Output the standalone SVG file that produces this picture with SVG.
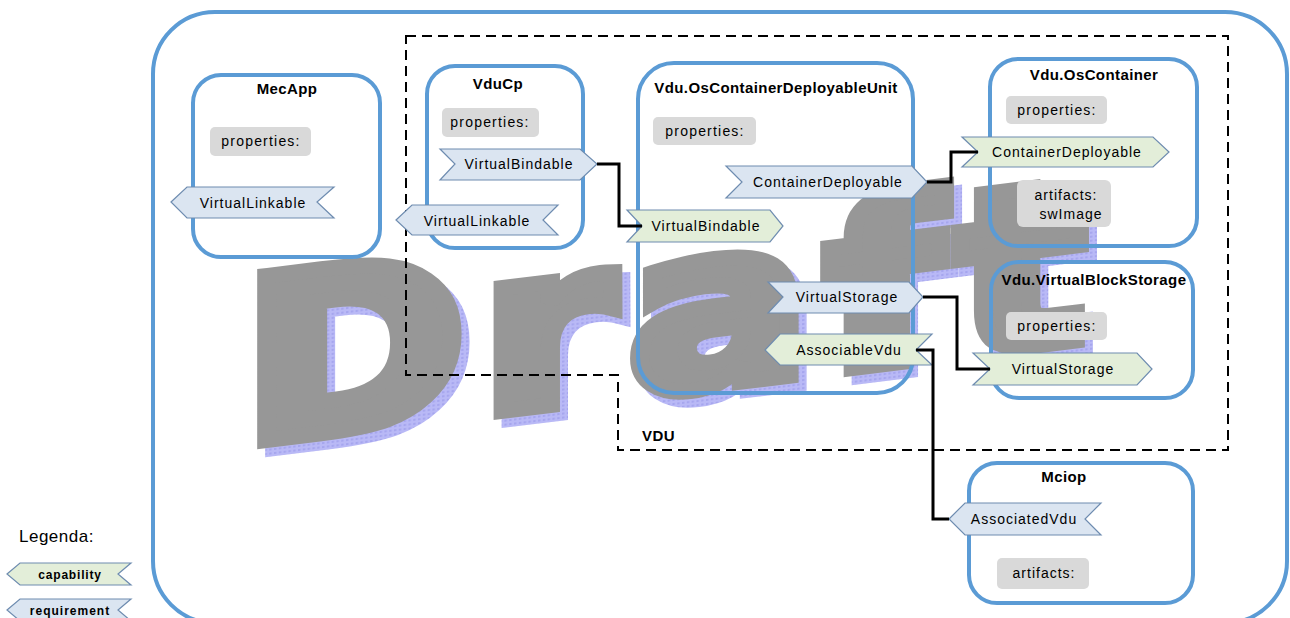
<svg xmlns="http://www.w3.org/2000/svg" width="1290" height="618" viewBox="0 0 1290 618">
<defs>
<style>
.node{fill:none;stroke:#5b9bd5;stroke-width:4}
.title{font-family:"Liberation Sans",Arial,sans-serif;font-weight:bold;font-size:15px;letter-spacing:0.4px;fill:#000;text-anchor:middle}
.prop{fill:#d9d9d9;stroke:none}
.t{font-family:"Liberation Sans",Arial,sans-serif;font-size:14px;letter-spacing:1px;fill:#000;text-anchor:middle}
.req{fill:#dbe5f1;stroke:#6e8cb0;stroke-width:1.2}
.cap{fill:#e3eed9;stroke:#6e8cb0;stroke-width:1.2}
.conn{fill:none;stroke:#000;stroke-width:3}
.wm{font-family:"DejaVu Sans",sans-serif;font-weight:bold;font-size:225px;letter-spacing:12px;stroke-width:16;stroke-linejoin:miter;stroke-miterlimit:2}
</style>
<pattern id="dots" width="4" height="4" patternUnits="userSpaceOnUse">
<rect width="4" height="4" fill="#b9b9f6"/>
<rect width="2" height="2" fill="#a6a6ee"/>
</pattern>
</defs>
<rect width="1290" height="618" fill="#fff"/>
<rect x="153" y="12" width="1134" height="611" rx="62" fill="none" stroke="#5b9bd5" stroke-width="4"/>

<g id="watermark">
<text class="wm" transform="translate(250,451) skewY(-7) scale(1.2,1)" fill="url(#dots)" stroke="url(#dots)">Draft</text>
<text class="wm" transform="translate(242,443) skewY(-7) scale(1.2,1)" fill="#979797" stroke="#979797">Draft</text>
</g>

<g id="vdu-boundary">
<path d="M406,36 H1228 V450 H618 V375 H406 Z" fill="none" stroke="#000" stroke-width="2" stroke-dasharray="10,6"/>
<text x="642" y="441" class="title" style="text-anchor:start">VDU</text>
</g>

<g id="MecApp">
<rect class="node" x="193" y="75" width="187" height="182" rx="28"/>
<text class="title" x="287" y="94">MecApp</text>
<rect class="prop" x="210" y="127" width="101" height="29" rx="5"/>
<text class="t" x="261" y="146" style="letter-spacing:1.2px">properties:</text>
<polygon class="req" points="171,202 187,187 334,187 317,202 334,218 187,218"/>
<text class="t" x="253" y="208">VirtualLinkable</text>
</g>

<g id="VduCp">
<rect class="node" x="427" y="66" width="156" height="182" rx="28"/>
<text class="title" x="498" y="89">VduCp</text>
<rect class="prop" x="442" y="108" width="97" height="29" rx="5"/>
<text class="t" x="490" y="127" style="letter-spacing:1.2px">properties:</text>
<polygon class="req" points="440,149 580,149 597,164 580,180 440,180 455,164"/>
<text class="t" x="519" y="169">VirtualBindable</text>
<polygon class="req" points="396,220 412,205 558,205 543,220 558,235 412,235"/>
<text class="t" x="477" y="226">VirtualLinkable</text>
</g>

<g id="OsContainerDeployableUnit">
<rect class="node" x="638" y="63" width="275" height="330" rx="36"/>
<text class="title" x="776" y="93">Vdu.OsContainerDeployableUnit</text>
<rect class="prop" x="653" y="117" width="103" height="28" rx="5"/>
<text class="t" x="705" y="136" style="letter-spacing:1.2px">properties:</text>
<polygon class="req" points="726,166 912,166 927,182 912,198 726,198 742,182"/>
<text class="t" x="828" y="187">ContainerDeployable</text>
<polygon class="cap" points="627,210 770,210 783,226 770,242 627,242 642,226"/>
<text class="t" x="706" y="231">VirtualBindable</text>
<polygon class="req" points="768,282 909,282 923,297 909,313 768,313 783,297"/>
<text class="t" x="847" y="302">VirtualStorage</text>
<polygon class="cap" points="765,350 780,334 932,334 916,350 932,365 780,365"/>
<text class="t" x="849" y="355">AssociableVdu</text>
</g>

<g id="OsContainer">
<rect class="node" x="990" y="59" width="207" height="187" rx="28"/>
<text class="title" x="1094" y="80">Vdu.OsContainer</text>
<rect class="prop" x="1006" y="96" width="101" height="28" rx="5"/>
<text class="t" x="1057" y="115" style="letter-spacing:1.2px">properties:</text>
<polygon class="cap" points="962,137 1153,137 1169,152 1153,167 962,167 978,152"/>
<text class="t" x="1067" y="157">ContainerDeployable</text>
<rect class="prop" x="1017" y="180" width="94" height="47" rx="6"/>
<text class="t" x="1066" y="200">artifacts:</text>
<text class="t" x="1071" y="219">swImage</text>
</g>

<g id="VirtualBlockStorage">
<rect class="node" x="991" y="262" width="202" height="136" rx="28"/>
<text class="title" x="1094" y="285">Vdu.VirtualBlockStorage</text>
<rect class="prop" x="1006" y="312" width="101" height="28" rx="5"/>
<text class="t" x="1057" y="331" style="letter-spacing:1.2px">properties:</text>
<polygon class="cap" points="973,353 1137,353 1152,369 1137,385 973,385 990,369"/>
<text class="t" x="1063" y="374">VirtualStorage</text>
</g>

<g id="Mciop">
<rect class="node" x="969" y="463" width="224" height="140" rx="28"/>
<text class="title" x="1064" y="482">Mciop</text>
<polygon class="req" points="949,519 965,503 1101,503 1085,519 1101,535 965,535"/>
<text class="t" x="1024" y="524">AssociatedVdu</text>
<rect class="prop" x="997" y="558" width="92" height="31" rx="5"/>
<text class="t" x="1044" y="578">artifacts:</text>
</g>

<g id="connectors">
<path class="conn" d="M597,164 H619 V226 H642"/>
<path class="conn" d="M927,182 H951 V152 H978"/>
<path class="conn" d="M923,297 H957 V369 H990"/>
<path class="conn" d="M916,350 H933 V519 H949"/>
</g>

<g id="legend">
<text x="19" y="542" style="font-family:'Liberation Sans',Arial,sans-serif;font-size:17px;letter-spacing:0.5px;fill:#000">Legenda:</text>
<polygon class="cap" points="7,574 20,563 131,563 118,574 131,585 20,585"/>
<text x="70" y="579" style="font-family:'Liberation Sans',Arial,sans-serif;font-weight:bold;font-size:12px;letter-spacing:0.8px;text-anchor:middle">capability</text>
<polygon class="req" points="7,610 20,599 131,599 118,610 131,621 20,621"/>
<text x="70" y="615" style="font-family:'Liberation Sans',Arial,sans-serif;font-weight:bold;font-size:12px;letter-spacing:1px;text-anchor:middle">requirement</text>
</g>
</svg>
